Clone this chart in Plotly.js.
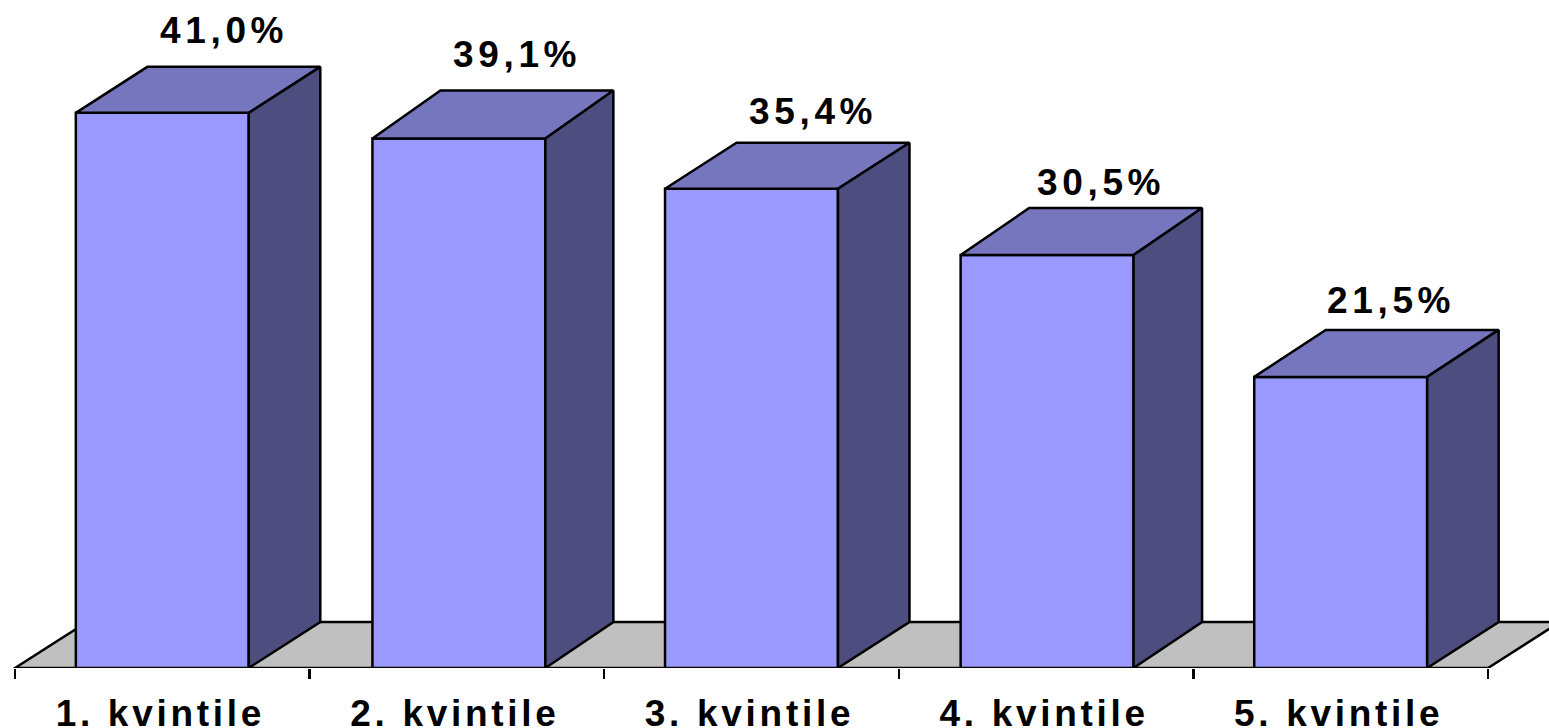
<!DOCTYPE html>
<html><head><meta charset="utf-8">
<script src="https://cdn.plot.ly/plotly-3.0.1.min.js"></script>
<style>
html,body{margin:0;padding:0;background:#fff;overflow:hidden}
.xtick text{letter-spacing:3.7px}
.annotation-text{letter-spacing:4.65px}
</style></head><body><div id="chart" style="width:1549px;height:728px"></div>
<script>
const categories = ["1. kvintile","2. kvintile","3. kvintile","4. kvintile","5. kvintile"];
const values = [41.0,39.1,35.4,30.5,21.5];
const valueLabels = ["41,0%","39,1%","35,4%","30,5%","21,5%"];

const W=1549,H=728,mb=60;
const xFirst=162.3, xStep=294.6, yScale=13.54;
const xr=[-xFirst/xStep,(W-xFirst)/xStep];
const yr=[0,(H-mb)/yScale];
const barW=0.587, floorDx=72/xStep, floorDy=46/yScale;
const line={color:'#000',width:2.5};
const nudgePx=[0,2,0,1,0];
const depthXPx=[71.5,68,71.5,68.5,71.5];
const depthYPx=[46,48,46,47,47];
const nudge=nudgePx.map(p=>p/xStep);
const labelX=[61.5,60,61,54.5,50], labelY=[36,36,31,26,29];

const traces=[{type:'bar',x:categories,y:values,width:barW,offset:nudge.map(n=>n-barW/2),
  marker:{color:'#9999FF',line:{color:'#000',width:2.5}},hoverinfo:'skip',showlegend:false}];
values.forEach((v,i)=>{
  const l=i+nudge[i]-barW/2,r=i+nudge[i]+barW/2;
  const dx=depthXPx[i]/xStep, dy=depthYPx[i]/yScale;
  traces.push({type:'scatter',mode:'lines',fill:'toself',fillcolor:'#7676BF',line,cliponaxis:false,hoverinfo:'skip',showlegend:false,
    xaxis:'x2',x:[l,r,r+dx,l+dx,l],y:[v,v,v+dy,v+dy,v]});
  traces.push({type:'scatter',mode:'lines',fill:'toself',fillcolor:'#4D4D80',line,cliponaxis:false,hoverinfo:'skip',showlegend:false,
    xaxis:'x2',x:[r,r+dx,r+dx,r,r],y:[0,floorDy,v+dy,v,0]});
});

const fl=-0.5, fr=categories.length-0.5;
const layout={width:W,height:H,margin:{l:0,r:0,t:0,b:mb},paper_bgcolor:'#fff',plot_bgcolor:'#fff',showlegend:false,
  font:{family:'"Liberation Sans",Arial,sans-serif',color:'#000'},
  xaxis:{type:'category',categoryorder:'array',categoryarray:categories,range:xr,tickson:'boundaries',ticks:'outside',ticklen:10,tickwidth:2.5,tickcolor:'#000',
    showgrid:false,zeroline:false,showline:false,ticklabelstandoff:20,ticklabelshift:-2,tickfont:{size:37,weight:700,color:'#000'}},
  xaxis2:{overlaying:'x',range:xr,visible:false,fixedrange:true},
  yaxis:{range:yr,visible:false,fixedrange:true},
  shapes:[{type:'path',layer:'below',xref:'x2',yref:'y',
    path:`M${fl},0 L${fl+floorDx},${floorDy} L${fr+floorDx},${floorDy} L${fr},0 Z`,fillcolor:'#C0C0C0',line}],
  annotations:values.map((v,i)=>({xref:'x2',yref:'y',x:i,y:v+depthYPx[i]/yScale,text:valueLabels[i],showarrow:false,xanchor:'center',yanchor:'middle',
    xshift:labelX[i],yshift:labelY[i],font:{size:37,weight:700,color:'#000'}}))
};
Plotly.newPlot('chart',traces,layout,{displayModeBar:false,staticPlot:true});
</script></body></html>
